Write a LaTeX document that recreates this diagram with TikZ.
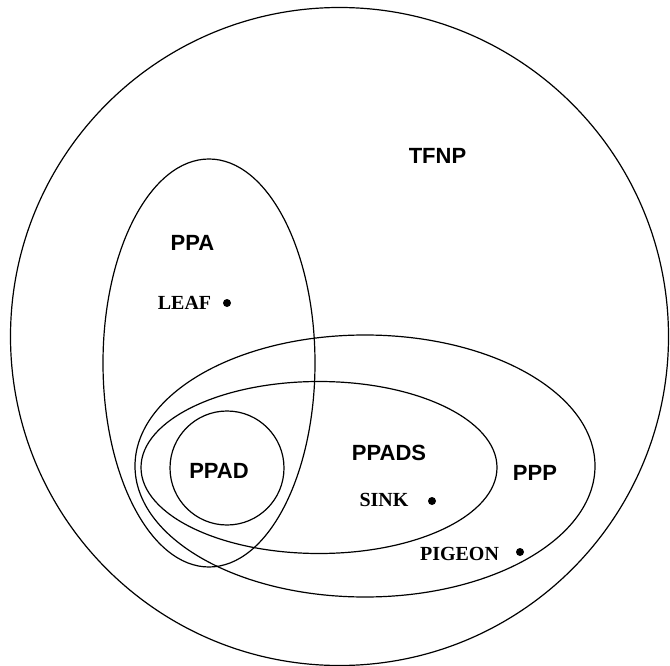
\documentclass[tikz,border=0pt]{standalone}
\usepackage{fontspec}
\setmainfont{Liberation Serif}
\setsansfont{Liberation Sans}
\begin{document}
\begin{tikzpicture}[x=1pt,y=-1pt,
  setline/.style={line width=1.2pt, black},
  classlbl/.style={font=\sffamily\bfseries\fontsize{22}{22}\selectfont, inner sep=0pt, anchor=center},
  problbl/.style={font=\rmfamily\bfseries\fontsize{20}{20}\selectfont, inner sep=0pt, anchor=center},
  probdot/.style={circle, fill=black, inner sep=0pt, minimum size=8pt}]
\useasboundingbox (0,0) rectangle (670,666);
% sets
\draw[setline] (339.5,336.5) circle[radius=329];
\draw[setline] (209,363) ellipse[x radius=106, y radius=204];
\draw[setline] (365,466) ellipse[x radius=230, y radius=131];
\draw[setline] (319,467.5) ellipse[x radius=178, y radius=86];
\draw[setline] (227,468) circle[radius=57];
% class labels
\node[classlbl] (tfnp) at (437.5,155.5) {TFNP};
\node[classlbl] (ppa) at (192.5,243) {PPA};
\node[classlbl] (ppad) at (219,471) {PPAD};
\node[classlbl] (ppads) at (389,453) {PPADS};
\node[classlbl] (ppp) at (535,472.5) {PPP};
% problems
\node[problbl] (leaf) at (184.5,303) {LEAF};
\node[probdot] (leafdot) at (227,303) {};
\node[problbl] (sink) at (384,500) {SINK};
\node[probdot] (sinkdot) at (432,501) {};
\node[problbl] (pigeon) at (459.5,554) {PIGEON};
\node[probdot] (pigeondot) at (520,552) {};
\end{tikzpicture}
\end{document}
